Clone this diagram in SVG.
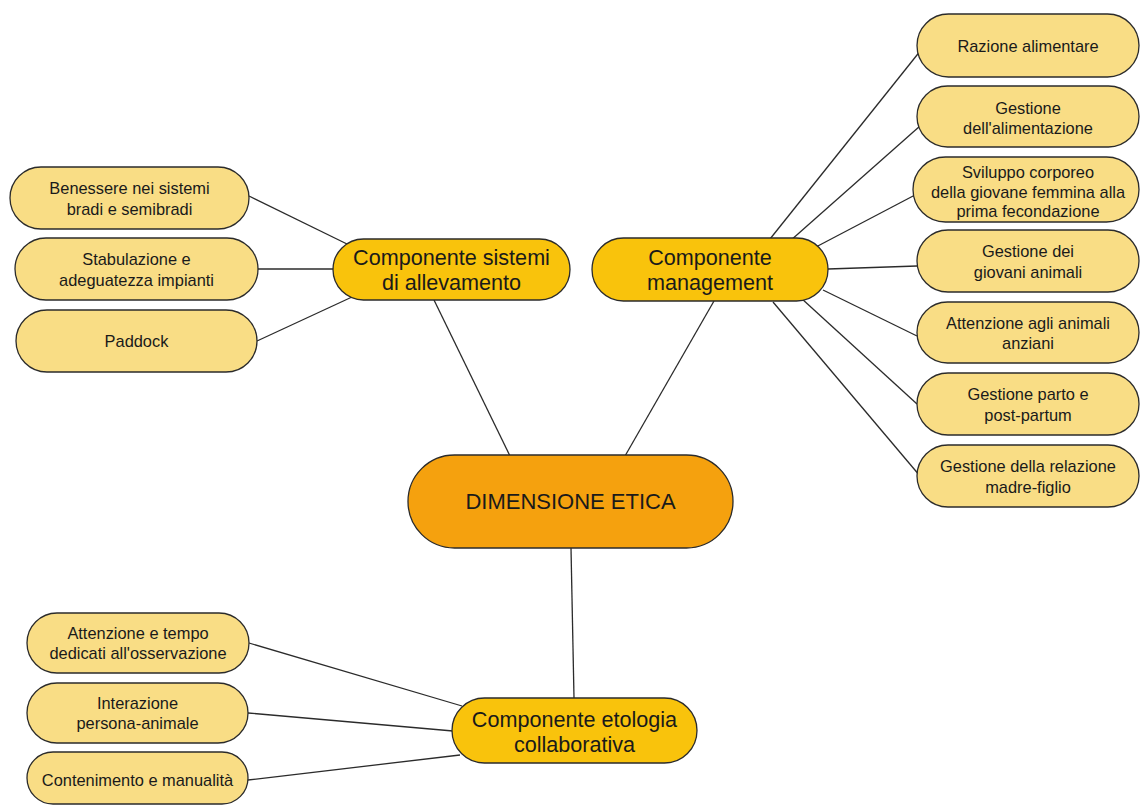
<svg xmlns="http://www.w3.org/2000/svg" width="1141" height="805" viewBox="0 0 1141 805">
<style>
.leaf{fill:#F9DD85;stroke:#2b2b2b;stroke-width:1.3}
.comp{fill:#F9C30C;stroke:#2b2b2b;stroke-width:1.3}
.core{fill:#F5A10E;stroke:#2b2b2b;stroke-width:1.3}
.lt{font-family:"Liberation Sans",Arial,sans-serif;font-size:16.4px;fill:#1a1a1a;text-anchor:middle}
.ct{font-family:"Liberation Sans",Arial,sans-serif;font-size:21.6px;fill:#1a1a1a;text-anchor:middle}
.kt{font-family:"Liberation Sans",Arial,sans-serif;font-size:22px;fill:#1a1a1a;text-anchor:middle}
.conn line{stroke:#2b2b2b;stroke-width:1.3}
</style>
<rect width="1141" height="805" fill="#ffffff"/>
<g class="conn" id="connectors">
<line x1="249" y1="196" x2="347" y2="244"/>
<line x1="258" y1="269" x2="334" y2="269"/>
<line x1="257" y1="341" x2="352" y2="297"/>
<line x1="434" y1="300" x2="510" y2="456"/>
<line x1="714" y1="301" x2="625" y2="456"/>
<line x1="571" y1="548" x2="574" y2="698"/>
<line x1="249" y1="643" x2="462" y2="706"/>
<line x1="248" y1="713" x2="453" y2="731"/>
<line x1="248" y1="780" x2="460" y2="755"/>
<line x1="770" y1="239" x2="921" y2="50"/>
<line x1="790" y1="241" x2="920" y2="126"/>
<line x1="814" y1="248" x2="915" y2="195"/>
<line x1="828" y1="269" x2="917" y2="266"/>
<line x1="823" y1="290" x2="917" y2="336"/>
<line x1="801" y1="298" x2="917" y2="404"/>
<line x1="773" y1="302" x2="920" y2="476"/>
</g>
<g id="core"><rect class="core" x="408" y="455" width="325" height="93" rx="46.5"/><text class="kt" x="570.5" y="509">DIMENSIONE ETICA</text></g>
<g id="sistemi"><rect class="comp" x="333" y="239" width="237" height="61" rx="30.5"/><text class="ct" x="451.5" y="265">Componente sistemi</text><text class="ct" x="451.5" y="290">di allevamento</text></g>
<g id="management"><rect class="comp" x="592" y="238" width="236" height="63" rx="31.5"/><text class="ct" x="710" y="265">Componente</text><text class="ct" x="710" y="290">management</text></g>
<g id="etologia"><rect class="comp" x="452" y="698" width="245" height="65" rx="32.5"/><text class="ct" x="574.5" y="727">Componente etologia</text><text class="ct" x="574.5" y="752">collaborativa</text></g>
<g id="benessere"><rect class="leaf" x="10" y="167" width="239" height="62" rx="31"/><text class="lt" x="129.5" y="194">Benessere nei sistemi</text><text class="lt" x="129.5" y="215">bradi e semibradi</text></g>
<g id="stabulazione"><rect class="leaf" x="15" y="238" width="243" height="62" rx="31"/><text class="lt" x="136.5" y="265">Stabulazione e</text><text class="lt" x="136.5" y="286">adeguatezza impianti</text></g>
<g id="paddock"><rect class="leaf" x="16" y="310" width="241" height="62" rx="31"/><text class="lt" x="136.5" y="347">Paddock</text></g>
<g id="razione"><rect class="leaf" x="917" y="14" width="222" height="63" rx="31.5"/><text class="lt" x="1028" y="52">Razione alimentare</text></g>
<g id="gestione-alim"><rect class="leaf" x="917" y="86" width="222" height="61" rx="30.5"/><text class="lt" x="1028" y="114">Gestione</text><text class="lt" x="1028" y="134">dell'alimentazione</text></g>
<g id="sviluppo"><rect class="leaf" x="913" y="157" width="226" height="65" rx="32.5"/><text class="lt" x="1028" y="178">Sviluppo corporeo</text><text class="lt" x="1028" y="198">della giovane femmina alla</text><text class="lt" x="1028" y="217">prima fecondazione</text></g>
<g id="giovani"><rect class="leaf" x="917" y="230" width="222" height="62" rx="31"/><text class="lt" x="1028" y="257">Gestione dei</text><text class="lt" x="1028" y="278">giovani animali</text></g>
<g id="anziani"><rect class="leaf" x="917" y="302" width="222" height="61" rx="30.5"/><text class="lt" x="1028" y="329">Attenzione agli animali</text><text class="lt" x="1028" y="349">anziani</text></g>
<g id="parto"><rect class="leaf" x="917" y="373" width="222" height="62" rx="31"/><text class="lt" x="1028" y="400">Gestione parto e</text><text class="lt" x="1028" y="421">post-partum</text></g>
<g id="relazione"><rect class="leaf" x="917" y="445" width="222" height="62" rx="31"/><text class="lt" x="1028" y="472">Gestione della relazione</text><text class="lt" x="1028" y="493">madre-figlio</text></g>
<g id="attenzione-tempo"><rect class="leaf" x="27" y="613" width="222" height="60" rx="30"/><text class="lt" x="138" y="639">Attenzione e tempo</text><text class="lt" x="138" y="659">dedicati all'osservazione</text></g>
<g id="interazione"><rect class="leaf" x="27" y="683" width="221" height="60" rx="30"/><text class="lt" x="137.5" y="709">Interazione</text><text class="lt" x="137.5" y="729">persona-animale</text></g>
<g id="contenimento"><rect class="leaf" x="27" y="752" width="221" height="52" rx="26"/><text class="lt" x="137.5" y="786">Contenimento e manualità</text></g>
</svg>
